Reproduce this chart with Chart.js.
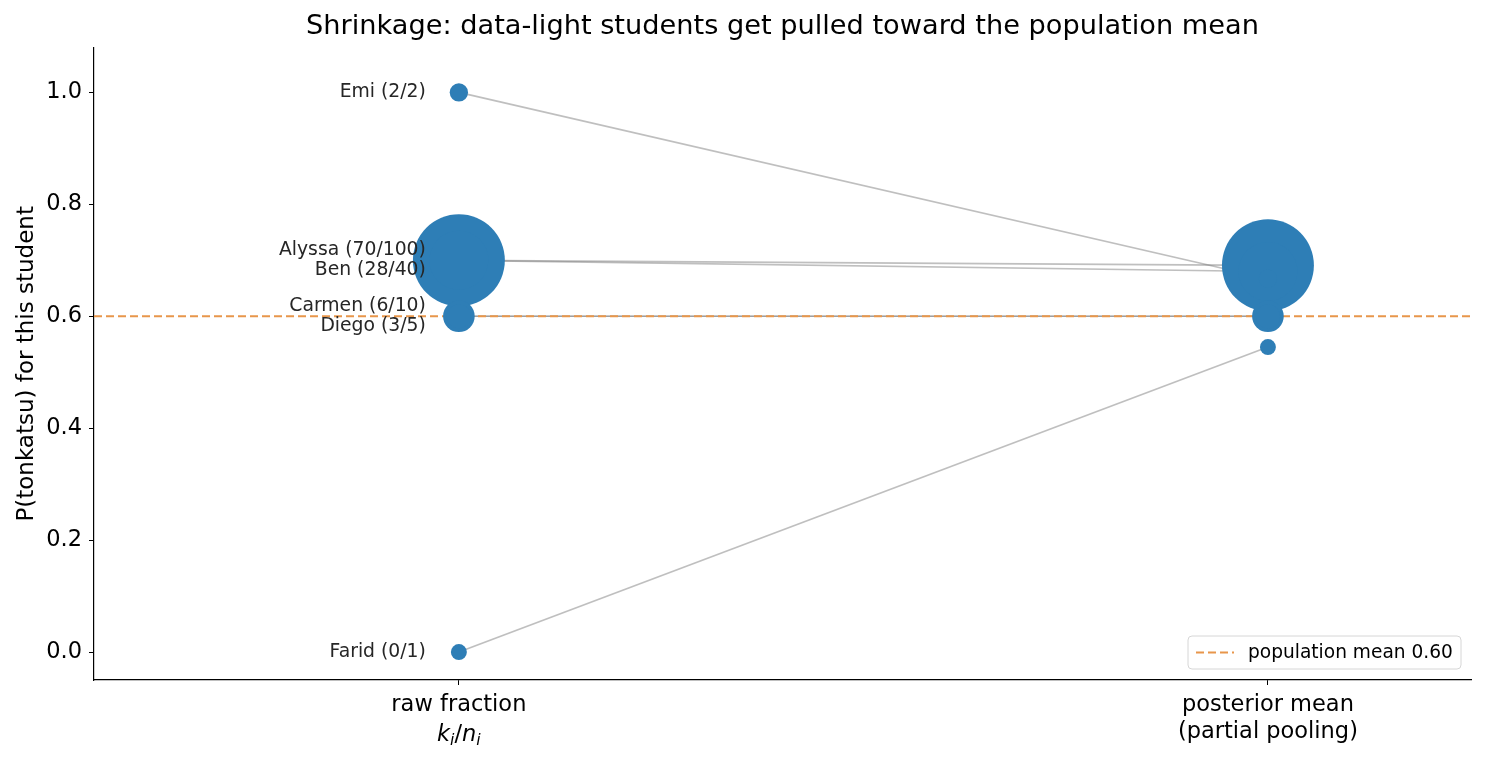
<!DOCTYPE html>
<html>
<head>
<meta charset="utf-8">
<script src="https://cdn.jsdelivr.net/npm/chart.js@4.4.1/dist/chart.umd.min.js"></script>
<style>
  body { margin: 0; background: #fff; }
  #wrap { width: 1485px; height: 762px; }
</style>
</head>
<body>
<div id="wrap"><canvas id="shrink"></canvas></div>
<script>
// students, their counts and the two estimates
const students = ['Alyssa', 'Ben', 'Carmen', 'Diego', 'Emi', 'Farid'];
const hits = [70, 28, 6, 3, 2, 0];
const trials = [100, 40, 10, 5, 2, 1];
const rawFraction = [0.70, 0.70, 0.60, 0.60, 1.00, 0.00];
const posteriorMean = [0.691, 0.680, 0.600, 0.600, 0.667, 0.545];
const popMean = 0.60;
const stageLabels = [['raw fraction', ''], ['posterior mean', '(partial pooling)']];
const yTicks = [0, 0.2, 0.4, 0.6, 0.8, 1.0];

const BLUE = '#2e7eb6';
const ORANGE = '#e8964b';
const FONT = "'DejaVu Sans', sans-serif";

// marker area grows with n
function markerRadius(n) {
  return Math.sqrt(43 + 20.7 * n);
}

const lineSets = students.map((name, i) => ({
  type: 'line',
  label: name,
  data: [{ x: 0, y: rawFraction[i] }, { x: 1, y: posteriorMean[i] }],
  borderColor: 'rgba(128,128,128,0.5)',
  borderWidth: 1.7,
  pointRadius: 0,
  order: 3
}));

const datasets = [
  ...lineSets,
  {
    type: 'line',
    label: 'population mean ' + popMean.toFixed(2),
    data: [{ x: -0.451, y: popMean }, { x: 1.251, y: popMean }],
    borderColor: ORANGE,
    borderWidth: 2,
    borderDash: [8, 4],
    pointRadius: 0,
    order: 2
  },
  {
    type: 'scatter',
    label: 'raw',
    data: rawFraction.map(v => ({ x: 0, y: v })),
    backgroundColor: BLUE,
    borderWidth: 0,
    pointRadius: trials.map(markerRadius),
    order: 1
  },
  {
    type: 'scatter',
    label: 'posterior',
    data: posteriorMean.map(v => ({ x: 1, y: v })),
    backgroundColor: BLUE,
    borderWidth: 0,
    pointRadius: trials.map(markerRadius),
    order: 1
  }
];

// names next to the raw points, nudged apart when two share a value
const namePlugin = {
  id: 'names',
  afterDatasetsDraw(chart) {
    const ctx = chart.ctx;
    const xs = chart.scales.x, ys = chart.scales.y;
    ctx.save();
    ctx.font = '18.8px ' + FONT;
    ctx.fillStyle = '#262626';
    ctx.textAlign = 'right';
    ctx.textBaseline = 'middle';
    students.forEach((name, i) => {
      let dy = 0;
      const twin = rawFraction.findIndex((v, j) => j !== i && v === rawFraction[i]);
      if (twin >= 0) dy = twin > i ? -10 : 10;
      const px = xs.getPixelForValue(0) - 33;
      const py = ys.getPixelForValue(rawFraction[i]) + dy;
      ctx.fillText(name + ' (' + hits[i] + '/' + trials[i] + ')', px, py);
    });
    ctx.restore();
  }
};

// k_i/n_i under the first tick, plus the legend box
const extrasPlugin = {
  id: 'extras',
  afterDraw(chart) {
    const ctx = chart.ctx;
    const xs = chart.scales.x;
    const area = chart.chartArea;
    ctx.save();
    // math label
    const parts = [
      { t: 'k', f: 'italic 22.5px ' + FONT, dy: 0 },
      { t: 'i', f: 'italic 15.7px ' + FONT, dy: 4 },
      { t: '/', f: '22.5px ' + FONT, dy: 0 },
      { t: 'n', f: 'italic 22.5px ' + FONT, dy: 0 },
      { t: 'i', f: 'italic 15.7px ' + FONT, dy: 4 }
    ];
    let total = 0;
    parts.forEach(p => { ctx.font = p.f; p.w = ctx.measureText(p.t).width; total += p.w; });
    let x = xs.getPixelForValue(0) - total / 2;
    const yBase = 741;
    ctx.fillStyle = '#000';
    ctx.textBaseline = 'alphabetic';
    ctx.textAlign = 'left';
    parts.forEach(p => { ctx.font = p.f; ctx.fillText(p.t, x, yBase + p.dy); x += p.w; });

    // legend
    const bx = area.right - 283, by = area.bottom - 44, bw = 273, bh = 33;
    ctx.beginPath();
    ctx.roundRect(bx, by, bw, bh, 4);
    ctx.fillStyle = 'rgba(255,255,255,0.8)';
    ctx.fill();
    ctx.strokeStyle = '#d6d6d6';
    ctx.lineWidth = 1;
    ctx.stroke();
    ctx.beginPath();
    ctx.setLineDash([8, 4]);
    ctx.strokeStyle = ORANGE;
    ctx.lineWidth = 2;
    ctx.moveTo(bx + 8, by + bh / 2);
    ctx.lineTo(bx + 46, by + bh / 2);
    ctx.stroke();
    ctx.setLineDash([]);
    ctx.fillStyle = '#000';
    ctx.font = '18.6px ' + FONT;
    ctx.textBaseline = 'middle';
    ctx.fillText('population mean ' + popMean.toFixed(2), bx + 60, by + bh / 2 + 1);
    ctx.restore();
  }
};

new Chart(document.getElementById('shrink'), {
  data: { datasets },
  options: {
    responsive: true,
    maintainAspectRatio: false,
    animation: false,
    layout: { autoPadding: false, padding: { left: 0, right: 14, top: 0, bottom: 0 } },
    plugins: {
      legend: { display: false },
      tooltip: { enabled: false },
      title: {
        display: true,
        fullSize: false,
        text: 'Shrinkage: data-light students get pulled toward the population mean',
        color: '#000',
        font: { family: FONT, size: 27.2, weight: 'normal' },
        padding: { top: 11, bottom: 4 }
      }
    },
    scales: {
      x: {
        type: 'linear',
        min: -0.451,
        max: 1.251,
        afterFit(scale) {
          scale.height = 82;
          scale.paddingLeft = 0;
          scale.paddingRight = 0;
        },
        afterBuildTicks(scale) { scale.ticks = [{ value: 0 }, { value: 1 }]; },
        ticks: {
          color: '#000',
          font: { family: FONT, size: 22.5, lineHeight: 1.2 },
          padding: 7,
          maxRotation: 0,
          callback: v => stageLabels[v] || ''
        },
        grid: { drawOnChartArea: false, drawTicks: true, tickLength: 5, color: '#000' },
        border: { color: '#000', width: 1.2 }
      },
      y: {
        type: 'linear',
        min: -0.05,
        max: 1.08,
        afterFit(scale) { scale.width = 94; },
        afterBuildTicks(scale) { scale.ticks = yTicks.map(v => ({ value: v })); },
        ticks: {
          color: '#000',
          font: { family: FONT, size: 22.5 },
          padding: 7,
          callback: v => v.toFixed(1)
        },
        title: {
          display: true,
          text: 'P(tonkatsu) for this student',
          color: '#000',
          font: { family: FONT, size: 23 },
          padding: { top: 13, bottom: 0 }
        },
        grid: { drawOnChartArea: false, drawTicks: true, tickLength: 5, color: '#000' },
        border: { color: '#000', width: 1.2 }
      }
    }
  },
  plugins: [namePlugin, extrasPlugin]
});
</script>
</body>
</html>
